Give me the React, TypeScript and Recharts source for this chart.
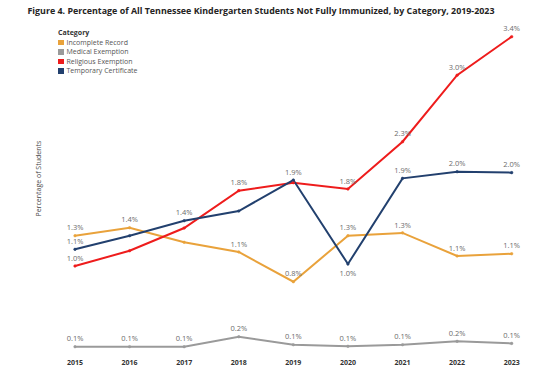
import { LineChart, Line, XAxis, YAxis, LabelList, Label } from "recharts";

const years = ["2015", "2016", "2017", "2018", "2019", "2020", "2021", "2022", "2023"];
const incomplete = [1.28, 1.365, 1.21, 1.107, 0.79, 1.28, 1.31, 1.064, 1.088];
const medical = [0.098, 0.098, 0.098, 0.204, 0.119, 0.102, 0.119, 0.155, 0.133];
const religious = [0.957, 1.12, 1.362, 1.76, 1.845, 1.777, 2.281, 2.99, 3.4];
const temporary = [1.135, 1.28, 1.44, 1.543, 1.873, 0.979, 1.891, 1.962, 1.952];

// which data labels Power BI kept (1 = shown) and which sit under the point
const incompleteShown = [1, 1, 0, 1, 1, 1, 1, 1, 1];
const medicalShown = [1, 1, 1, 1, 1, 1, 1, 1, 1];
const religiousShown = [1, 0, 0, 1, 0, 1, 1, 1, 1];
const temporaryShown = [1, 0, 1, 0, 1, 1, 1, 1, 1];
const temporaryBelow = [0, 0, 0, 0, 0, 1, 0, 0, 0];
const noneBelow = [0, 0, 0, 0, 0, 0, 0, 0, 0];

const categories = [
  { key: "incomplete", name: "Incomplete Record", color: "#E9A23B" },
  { key: "medical", name: "Medical Exemption", color: "#9A9A9A" },
  { key: "religious", name: "Religious Exemption", color: "#EE1C1C" },
  { key: "temporary", name: "Temporary Certificate", color: "#22406E" },
];

const data = years.map((year, i) => ({
  year,
  incomplete: incomplete[i],
  medical: medical[i],
  religious: religious[i],
  temporary: temporary[i],
}));

const FONT = "'Open Sans', 'Noto Sans', sans-serif";

function makeLabel(shown: number[], below: number[]) {
  return (props: any) => {
    const { x, y, value, index } = props;
    if (!shown[index] || x == null || y == null) return null;
    const dy = below[index] ? 12.5 : -5.3;
    return (
      <text x={x} y={y + dy} textAnchor="middle" fontSize={7.5} fill="#6b6b6b" fontFamily={FONT}>
        {Number(value).toFixed(1)}%
      </text>
    );
  };
}

export default function App() {
  const series = [
    { ...categories[0], shown: incompleteShown, below: noneBelow },
    { ...categories[1], shown: medicalShown, below: noneBelow },
    { ...categories[2], shown: religiousShown, below: noneBelow },
    { ...categories[3], shown: temporaryShown, below: temporaryBelow },
  ];

  return (
    <div style={{ position: "absolute", left: 0, top: 0, width: 545, height: 379, background: "#fff", fontFamily: FONT }}>
      <div
        style={{
          position: "absolute", left: 0, top: 3.5, width: 522, textAlign: "center",
          fontSize: 8.9, fontWeight: 700, color: "#252423", whiteSpace: "nowrap",
        }}
      >
        Figure 4. Percentage of All Tennessee Kindergarten Students Not Fully Immunized, by Category, 2019-2023
      </div>

      <div style={{ position: "absolute", left: 58, top: 28, fontSize: 7, color: "#555" }}>
        <div style={{ fontWeight: 700, color: "#333", height: 9.6, lineHeight: "9.6px" }}>Category</div>
        {categories.map((c) => (
          <div key={c.key} style={{ display: "flex", alignItems: "center", height: 9.6, lineHeight: "9.6px" }}>
            <span style={{ display: "inline-block", width: 5.5, height: 5.5, background: c.color, marginRight: 3 }} />
            <span>{c.name}</span>
          </div>
        ))}
      </div>

      <LineChart width={545} height={379} data={data} margin={{ top: 27.3, right: 33.3, bottom: 3.1, left: 0 }}>
        <XAxis
          dataKey="year"
          axisLine={false}
          tickLine={false}
          tickSize={0}
          tickMargin={4}
          height={20}
          interval={0}
          tick={{ fontSize: 7, fontWeight: 700, fill: "#333", fontFamily: FONT }}
        />
        <YAxis width={75} domain={[0, 3.5]} axisLine={false} tickLine={false} tick={false}>
          <Label
            content={(props: any) => {
              const vb = props.viewBox || { x: 0, y: 27, width: 75, height: 329 };
              const cy = vb.y + vb.height / 2 - 13;
              return (
                <text
                  transform={`translate(${vb.x + 40.5}, ${cy}) rotate(-90)`}
                  textAnchor="middle"
                  fontSize={7}
                  fill="#444"
                  fontFamily={FONT}
                >
                  Percentage of Students
                </text>
              );
            }}
          />
        </YAxis>
        {series.map((s) => (
          <Line
            key={s.key}
            dataKey={s.key}
            name={s.name}
            stroke={s.color}
            strokeWidth={2}
            dot={{ r: 1.3, fill: s.color, stroke: s.color, strokeWidth: 0.5 }}
            activeDot={false}
            isAnimationActive={false}
          >
            <LabelList dataKey={s.key} content={makeLabel(s.shown, s.below)} />
          </Line>
        ))}
      </LineChart>
    </div>
  );
}
